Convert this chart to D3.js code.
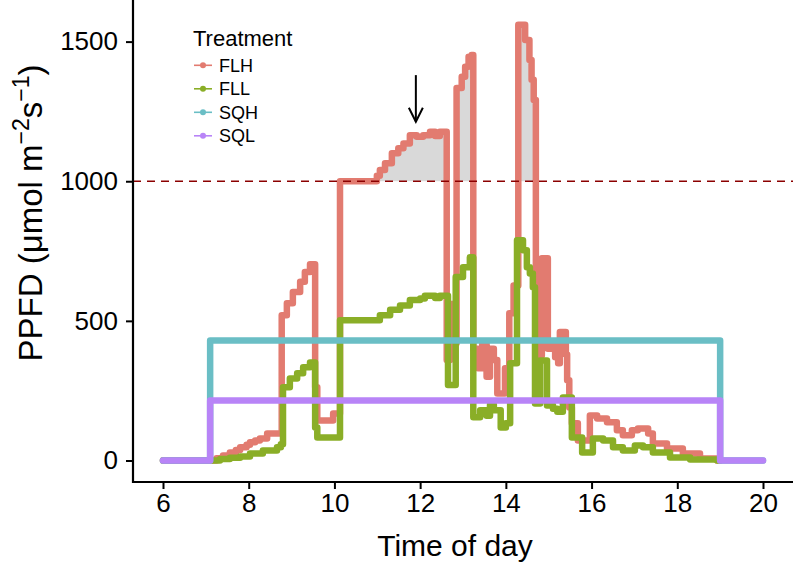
<!DOCTYPE html>
<html>
<head>
<meta charset="utf-8">
<script src="https://cdn.jsdelivr.net/npm/d3@7"></script>
<style>
  html, body { margin: 0; padding: 0; background: #ffffff; }
  svg { display: block; font-family: "Liberation Sans", Arial, sans-serif; }
</style>
</head>
<body>
<svg id="chart" width="796" height="567"></svg>
<script>
// ---------------- data ----------------
const seriesNames = ["FLH", "FLL", "SQH", "SQL"];
const seriesColors = ["#e27b70", "#8aae27", "#6abec5", "#b884f7"];

const flhTime = [6.00, 7.10, 7.25, 7.40, 7.56, 7.70, 7.80, 7.95, 8.03, 8.15, 8.26, 8.43,
  8.77, 8.89, 9.03, 9.20, 9.31, 9.43, 9.55, 9.60, 9.97, 10.13, 10.99, 11.06, 11.18, 11.34,
  11.49, 11.61, 11.76, 11.92, 12.07, 12.23, 12.35, 12.46, 12.62, 12.70, 12.76, 12.85, 12.97,
  13.05, 13.13, 13.20, 13.24, 13.35, 13.45, 13.55, 13.63, 13.72, 13.80, 13.98, 14.08, 14.18,
  14.29, 14.45, 14.55, 14.60, 14.65, 14.70, 14.84, 14.98, 15.05, 15.15, 15.22, 15.26, 15.40,
  15.43, 15.48, 15.54, 15.68, 15.96, 16.13, 16.36, 16.59, 16.73, 16.94, 17.08, 17.32, 17.43,
  17.76, 18.13, 18.53, 18.93, 19.00];
const flhValue = [0, 0, 8, 18, 29, 38, 47, 56, 65, 72, 79, 97,
  520, 563, 603, 640, 675, 703, 262, 143, 168, 1000, 1020, 1040, 1064, 1100,
  1118, 1135, 1165, 1159, 1165, 1177, 1162, 1177, 360, 560, 420, 1334, 1374,
  1410, 1446, 1452, 400, 330, 420, 300, 400, 360, 240, 330, 527, 627,
  1560, 1506, 1434, 1363, 1291, 376, 724, 400, 420, 370, 348, 460, 380,
  287, 190, 133, 72, 161, 150, 137, 108, 90, 108, 115, 97, 61,
  43, 25, 7, 0, 0];

const fllTime = [6.00, 7.10, 7.33, 7.56, 7.80, 8.03, 8.33, 8.66, 8.75, 8.80, 8.96, 9.13,
  9.27, 9.43, 9.55, 9.60, 10.13, 11.06, 11.30, 11.53, 11.76, 12.00, 12.11, 12.35, 12.46,
  12.65, 12.83, 13.00, 13.16, 13.24, 13.40, 13.55, 13.63, 13.72, 13.88, 14.00, 14.10, 14.26,
  14.40, 14.49, 14.56, 14.63, 14.68, 14.80, 14.96, 15.10, 15.20, 15.33, 15.54, 15.78, 16.03,
  16.27, 16.50, 16.73, 17.01, 17.20, 17.43, 17.83, 18.30, 18.93, 19.00];
const fllValue = [0, 0, 5, 10, 14, 25, 36, 47, 58, 262, 294, 312,
  334, 351, 118, 82, 502, 520, 540, 555, 575, 580, 590, 582, 590,
  270, 657, 692, 728, 155, 180, 160, 200, 180, 118, 133, 348, 789,
  753, 692, 670, 620, 204, 358, 197, 185, 175, 226, 82, 29, 79,
  72, 47, 36, 54, 47, 29, 11, 4, 0, 0];

const sqhTime = [6, 7.1, 19.0, 20];
const sqhValue = [0, 430, 0, 0];
const sqlTime = [6, 7.1, 19.0, 20];
const sqlValue = [0, 215, 0, 0];

const thresholdValue = 1000;
const arrowTime = 11.9, arrowFrom = 1380, arrowTo = 1213;

const xTicks = [6, 8, 10, 12, 14, 16, 18, 20];
const yTicks = [0, 500, 1000, 1500];
const xTitle = "Time of day";
const legendTitle = "Treatment";

// ---------------- layout ----------------
const svg = d3.select("#chart");
const panel = { left: 133, right: 793, top: 0, bottom: 482 };
const x = d3.scaleLinear().domain([5.3, 20.7]).range([panel.left, panel.right]);
const y = d3.scaleLinear().domain([-77, 1649]).range([panel.bottom, panel.top]);

const zip = (ts, vs) => ts.map((t, i) => ({ t: t, v: vs[i] }));
const series = [zip(flhTime, flhValue), zip(fllTime, fllValue), zip(sqhTime, sqhValue), zip(sqlTime, sqlValue)];

// grey fill above threshold
const area = d3.area().curve(d3.curveStepAfter)
  .x(d => x(d.t)).y0(y(thresholdValue)).y1(d => y(Math.max(d.v, thresholdValue)));
svg.append("path").datum(series[0]).attr("d", area).attr("fill", "#d9d9d9");

// lines
const line = d3.line().curve(d3.curveStepAfter).x(d => x(d.t)).y(d => y(d.v));
series.forEach((s, i) => {
  svg.append("path").datum(s).attr("d", line)
    .attr("fill", "none").attr("stroke", seriesColors[i]).attr("stroke-width", 6.5)
    .attr("stroke-linejoin", "round").attr("stroke-linecap", "round");
});

// threshold dashed line
svg.append("line")
  .attr("x1", panel.left).attr("x2", panel.right)
  .attr("y1", y(thresholdValue)).attr("y2", y(thresholdValue))
  .attr("stroke", "#8b0000").attr("stroke-width", 1.3).attr("stroke-dasharray", "8,6");

// arrow
const ax = x(arrowTime), ay0 = y(arrowFrom), ay1 = y(arrowTo);
svg.append("line").attr("x1", ax).attr("x2", ax).attr("y1", ay0).attr("y2", ay1)
  .attr("stroke", "#000").attr("stroke-width", 2);
svg.append("path")
  .attr("d", `M${ax - 7},${ay1 - 14} L${ax},${ay1} L${ax + 7},${ay1 - 14}`)
  .attr("fill", "none").attr("stroke", "#000").attr("stroke-width", 2);

// axes
const xAxis = svg.append("g").attr("transform", `translate(0,${panel.bottom})`)
  .call(d3.axisBottom(x).tickValues(xTicks).tickSize(7).tickPadding(4).tickFormat(d3.format("d")));
const yAxis = svg.append("g").attr("transform", `translate(${panel.left},0)`)
  .call(d3.axisLeft(y).tickValues(yTicks).tickSize(7).tickPadding(8).tickFormat(d3.format("d")));
[xAxis, yAxis].forEach(g => {
  g.select(".domain").remove();
  g.selectAll(".tick line").attr("stroke", "#000").attr("stroke-width", 2);
  g.selectAll(".tick text").attr("fill", "#000").style("font-size", "26px")
    .style("font-family", "'Liberation Sans', Arial, sans-serif");
});
xAxis.selectAll(".tick text").attr("dy", "0.72em");
svg.append("line").attr("x1", panel.left).attr("x2", panel.left)
  .attr("y1", panel.top).attr("y2", panel.bottom + 1).attr("stroke", "#000").attr("stroke-width", 2.2);
svg.append("line").attr("x1", panel.left - 1).attr("x2", panel.right)
  .attr("y1", panel.bottom).attr("y2", panel.bottom).attr("stroke", "#000").attr("stroke-width", 2.2);

// axis titles
svg.append("text").attr("x", 455).attr("y", 556)
  .attr("text-anchor", "middle").style("font-size", "30px").text(xTitle);

const yt = svg.append("text").attr("text-anchor", "middle")
  .attr("transform", "translate(42,213) rotate(-90)").style("font-size", "33px");
yt.append("tspan").text("PPFD (\u03bcmol m");
yt.append("tspan").attr("dy", -13).style("font-size", "23px").text("\u22122");
yt.append("tspan").attr("dy", 13).text("s");
yt.append("tspan").attr("dy", -13).style("font-size", "23px").text("\u22121");
yt.append("tspan").attr("dy", 13).text(")");

// legend
const lg = svg.append("g");
lg.append("text").attr("x", 193).attr("y", 46).style("font-size", "22px").text(legendTitle);
seriesNames.forEach((name, i) => {
  const cy = 65.3 + i * 23.5;
  lg.append("line").attr("x1", 194).attr("x2", 212).attr("y1", cy).attr("y2", cy)
    .attr("stroke", seriesColors[i]).attr("stroke-width", 1.6);
  lg.append("circle").attr("cx", 203).attr("cy", cy).attr("r", 3).attr("fill", seriesColors[i]);
  lg.append("text").attr("x", 219).attr("y", cy + 6.5).style("font-size", "18px").text(name);
});
</script>
</body>
</html>
